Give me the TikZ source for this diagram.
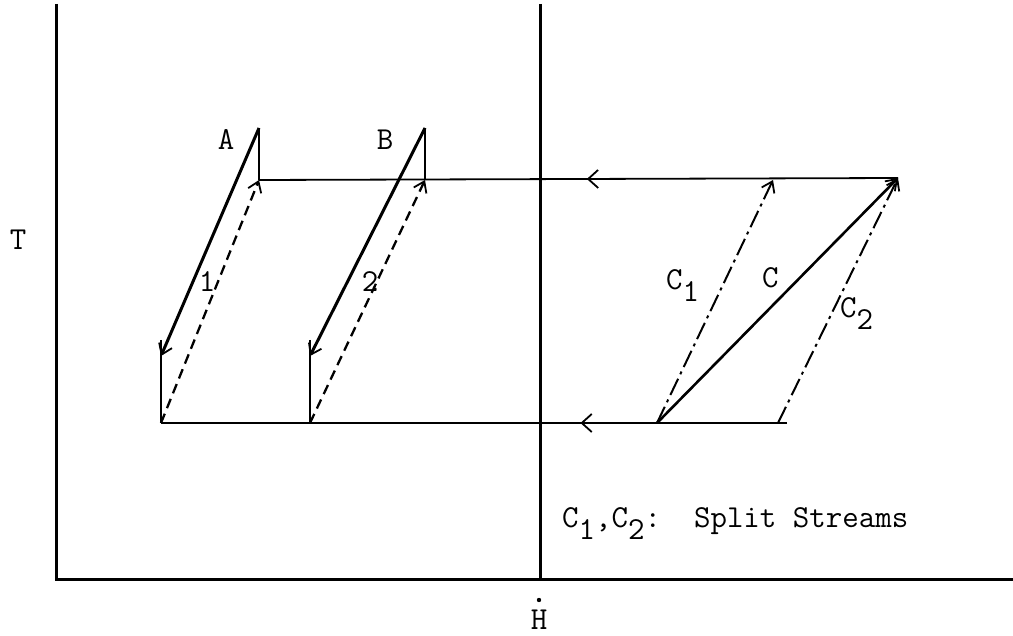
\documentclass[tikz,border=0pt]{standalone}
\usepackage{fontspec}
\usetikzlibrary{arrows.meta,decorations.markings}
\begin{document}
\begin{tikzpicture}[x=1pt,y=-1pt,
  axis/.style={line width=3pt},
  flow/.style={line width=1.8pt},
  barb/.tip={Straight Barb[length=10pt,width=14pt,line width=1.8pt]},
  hot/.style={line width=3pt,-barb},
  cold/.style={line width=2.3pt,dash pattern=on 10pt off 6pt,-barb},
  split/.style={line width=2pt,dash pattern=on 18pt off 5pt on 3pt off 5pt,-barb},
  lbl/.style={font=\ttfamily\addfontfeatures{FakeBold=1.2}\fontsize{32}{34}\selectfont, inner sep=0pt},
  midarrow/.style={postaction={decorate},decoration={markings,
    mark=at position #1 with {\arrow{Straight Barb[length=10pt,width=18pt,line width=1.8pt]}}}}
]
\useasboundingbox (0,0) rectangle (1013,636);
% axes
\coordinate (O) at (56,579);
\coordinate (Ytop) at (56,4);
\coordinate (Xend) at (1013,579);
\coordinate (Mtop) at (540,4);
\coordinate (Mbot) at (540,579);
\draw[axis] (Ytop) -- (O) -- (Xend);
\draw[axis] (Mtop) -- (Mbot);
% points
\coordinate (Atop) at (259,128);
\coordinate (Acor) at (259,180);
\coordinate (Aarr) at (161,356);
\coordinate (Avt) at (161,340);
\coordinate (Abot) at (161,423);
\coordinate (Btop) at (425,128);
\coordinate (Bcor) at (425,180);
\coordinate (Barr) at (310,356);
\coordinate (Bvt) at (310,340);
\coordinate (Bbot) at (310,423);
\coordinate (C1top) at (773,180);
\coordinate (Ctop) at (898,178);
\coordinate (Cbot) at (657,423);
\coordinate (C2bot) at (778,423);
\coordinate (Bend) at (787,423);
% horizontal lines
\draw[flow,midarrow=0.487] (Ctop) -- (Acor);
\draw[flow,midarrow=0.33] (Bend) -- (Abot);
% verticals
\draw[flow] (Atop) -- (Acor);
\draw[flow] (Btop) -- (Bcor);
\draw[flow] (Avt) -- (Abot);
\draw[flow] (Bvt) -- (Bbot);
% hot streams
\draw[hot] (Atop) -- (Aarr);
\draw[hot] (Btop) -- (Barr);
% cold streams
\draw[cold] (Abot) -- (Acor);
\draw[cold] (Bbot) -- (Bcor);
\draw[split] (Cbot) -- (C1top);
\draw[split] (C2bot) -- (Ctop);
\draw[hot,line width=2.6pt] (Cbot) -- (Ctop);
% labels
\node[lbl] (lA) at (226,140) {A};
\node[lbl] (lB) at (385,140) {B};
\node[lbl] (l1) at (207,282) {1};
\node[lbl] (l2) at (370,282) {2};
\node[lbl,anchor=base west] (lC1) at (666,290) {C\raisebox{-12pt}{1}};
\node[lbl,anchor=base west] (lC) at (762,288) {C};
\node[lbl,anchor=base west] (lC2) at (840,318) {C\raisebox{-12pt}{2}};
\node[lbl,anchor=base west] (note) at (562,527) {C\raisebox{-12pt}{1},C\raisebox{-12pt}{2}:~~Split Streams};
\node[lbl] (lT) at (18,240) {T};
\node[lbl] (lH) at (539,620) {H};
\fill (539,600) circle (2.2pt);
\end{tikzpicture}
\end{document}
